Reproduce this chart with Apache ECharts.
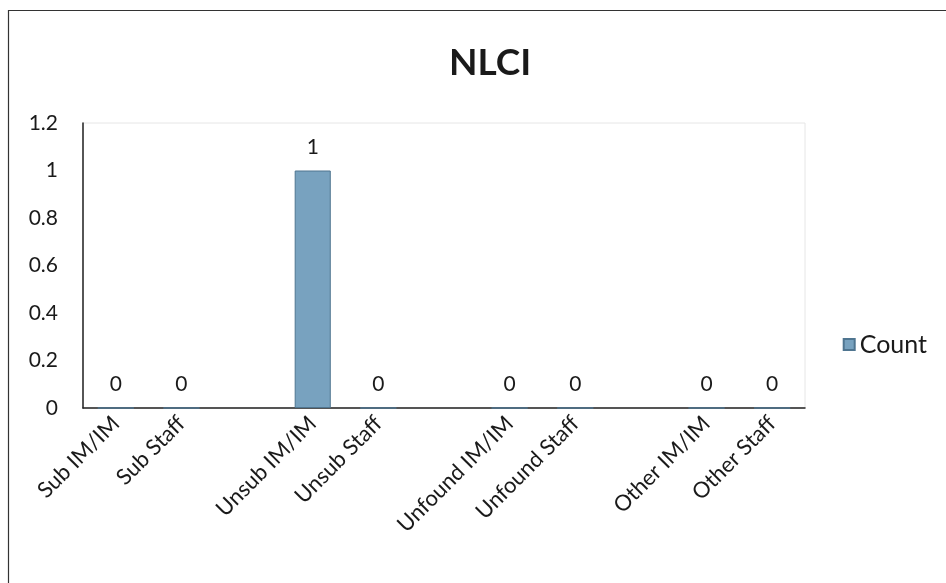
<!DOCTYPE html>
<html><head><meta charset="utf-8">
<script src="https://cdn.jsdelivr.net/npm/echarts@6/dist/echarts.min.js"></script>
<style>html,body{margin:0;padding:0;background:#fff}#c{width:946px;height:583px}</style>
</head><body><div id="c"></div>
<script>
const categories = ['Sub IM/IM','Sub Staff','','Unsub IM/IM','Unsub Staff','','Unfound IM/IM','Unfound Staff','','Other IM/IM','Other Staff'];
const counts = [0,0,null,1,0,null,0,0,null,0,0];
const seriesName = 'Count';
const titleText = 'NLCI';
const FONT = 'Lato, "Open Sans", sans-serif';
const chart = echarts.init(document.getElementById('c'), null, {renderer:'canvas'});
chart.setOption({
  animation:false,
  backgroundColor:'#fff',
  title:{text:titleText,left:485,top:40,textAlign:'center',
    textStyle:{fontFamily:FONT,fontSize:37,fontWeight:'bold',color:'#1a1a1a'}},
  legend:{right:14,top:327,orient:'vertical',itemWidth:11,itemHeight:11,icon:'rect',itemGap:6,
    textStyle:{fontFamily:FONT,fontSize:25,color:'#1a1a1a'},data:[seriesName]},
  grid:{left:83,right:141,top:123,bottom:175,show:true,borderColor:'#e6e6e6',borderWidth:1},
  xAxis:{type:'category',data:categories,
    axisLine:{lineStyle:{color:'#222',width:1.5}},axisTick:{show:false},
    axisLabel:{rotate:45,interval:0,margin:12,fontFamily:FONT,fontSize:22,color:'#1a1a1a'}},
  yAxis:{type:'value',min:0,max:1.2,interval:0.2,
    axisLine:{show:true,lineStyle:{color:'#222',width:1.5}},axisTick:{show:false},
    splitLine:{show:false},
    axisLabel:{margin:25,fontFamily:FONT,fontSize:21,color:'#1a1a1a',
      formatter:v=>String(Math.round(v*10)/10)}},
  series:[{name:seriesName,type:'bar',data:counts,barWidth:'55%',
    itemStyle:{color:'#78a2bf',borderColor:'#4f7590',borderWidth:1},
    label:{show:true,position:'top',distance:13,fontFamily:FONT,fontSize:21,color:'#1a1a1a'}}],
  graphic:[{type:'polyline',shape:{points:[[8.5,583],[8.5,10.5],[946,10.5]]},
    style:{stroke:'#333',lineWidth:1.2,fill:null}}]
});
</script></body></html>
